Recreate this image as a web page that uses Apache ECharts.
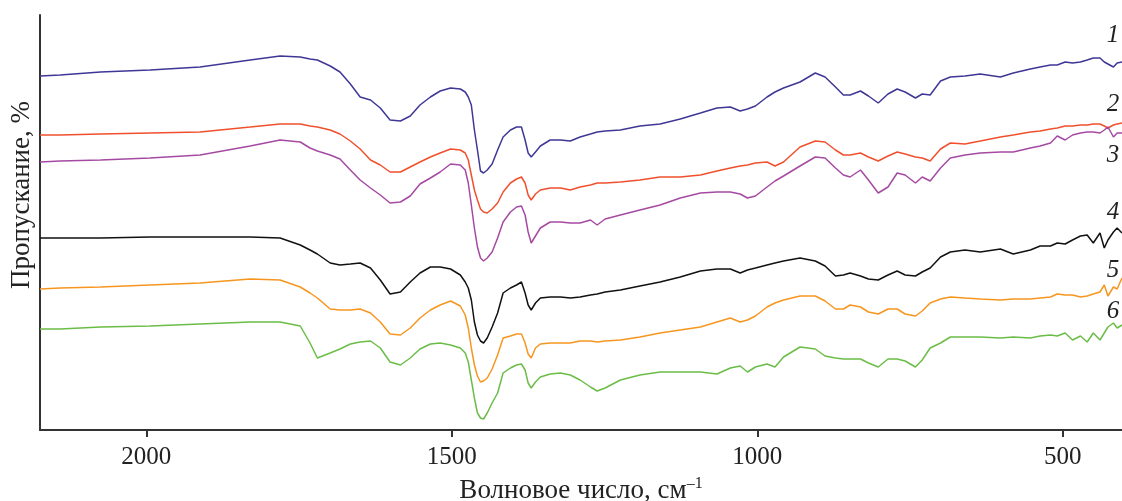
<!DOCTYPE html>
<html>
<head>
<meta charset="utf-8">
<script src="https://cdn.jsdelivr.net/npm/echarts@6/dist/echarts.min.js"></script>
<style>
  html, body { margin: 0; padding: 0; background: #fff; }
  #chart { width: 1122px; height: 501px; }
</style>
</head>
<body>
<div id="chart"></div>
<script>
// волновое число, см-1 (общая сетка для всех спектров)
const wn = [
  2174, 2141, 2075, 1994, 1912, 1830, 1781, 1748, 1732, 1720,
  1699, 1683, 1666, 1650, 1633, 1617, 1601, 1584, 1568, 1552,
  1535, 1519, 1502, 1486, 1478, 1473, 1468, 1463, 1458, 1453,
  1448, 1442, 1434, 1425, 1416, 1404, 1394, 1386, 1380, 1375,
  1370, 1363, 1355, 1339, 1322, 1306, 1290, 1273, 1262, 1249,
  1224, 1192, 1159, 1126, 1093, 1066, 1044, 1028, 1016, 1003,
  984, 971, 957, 930, 905, 889, 872, 859, 848, 831,
  818, 802, 786, 771, 758, 741, 730, 717, 700, 684,
  660, 635, 602, 581, 553, 537, 520, 509, 496, 484,
  471, 460, 450, 439, 432, 426, 417, 411, 403
];

// пропускание (условные единицы, со сдвигом)
const s1 = [
  354, 355, 358, 360, 363, 370, 374, 373, 371, 370,
  364, 358, 346, 333, 330, 322, 310, 309, 314, 325,
  333, 339, 342, 341, 338, 333, 325, 300, 280, 259,
  257, 260, 266, 280, 293, 300, 303, 303, 290, 277,
  273, 278, 284, 290, 290, 289, 293, 296, 298, 299,
  300, 304, 306, 311, 317, 322, 323, 319, 321, 324,
  333, 338, 342, 348, 357, 353, 343, 335, 335, 339,
  334, 327, 336, 341, 338, 332, 336, 335, 349, 353,
  354, 356, 353, 357, 361, 363, 365, 365, 368, 367,
  368, 370, 372, 372, 368, 366, 363, 367, 368
];
const s2 = [
  295, 295, 296, 297, 298, 303, 306, 306, 304, 303,
  300, 296, 289, 281, 270, 265, 258, 258, 263, 268,
  273, 277, 281, 280, 277, 270, 255, 240, 230, 221,
  218, 217, 221, 227, 238, 247, 251, 253, 247, 235,
  230, 236, 240, 242, 242, 240, 243, 245, 247, 247,
  248, 250, 253, 253, 255, 259, 262, 264, 265, 267,
  268, 264, 268, 283, 289, 288, 280, 275, 275, 277,
  273, 269, 274, 278, 276, 273, 272, 269, 281, 287,
  286, 289, 293, 295, 298, 299, 301, 302, 304, 304,
  305, 305, 306, 306, 304, 302, 305, 306, 307
];
const s3 = [
  268, 269, 270, 272, 275, 284, 290, 288, 282, 279,
  275, 271, 260, 250, 242, 235, 227, 228, 234, 246,
  252, 258, 266, 265, 260, 247, 225, 202, 183, 172,
  169, 172, 178, 192, 208, 218, 223, 224, 215, 198,
  187, 194, 202, 208, 208, 207, 207, 210, 205, 211,
  215, 220, 225, 232, 237, 238, 238, 236, 232, 234,
  243, 249, 254, 264, 273, 272, 262, 255, 253, 260,
  250, 237, 243, 257, 255, 247, 253, 249, 262, 272,
  275, 277, 278, 278, 282, 284, 287, 294, 290, 295,
  297, 298, 298, 297, 300, 303, 293, 297, 297
];
const s4 = [
  192, 192, 192, 193, 193, 193, 192, 185, 180, 176,
  167, 165, 166, 167, 162, 150, 136, 138, 148, 157,
  163, 163, 161, 155, 148, 142, 130, 108, 95, 89,
  87, 92, 103, 117, 137, 142, 145, 148, 137, 125,
  120, 127, 132, 133, 133, 132, 133, 135, 136, 138,
  140, 144, 148, 153, 159, 161, 161, 157, 160, 162,
  165, 167, 169, 172, 169, 164, 154, 155, 157, 154,
  151, 150, 155, 159, 155, 154, 158, 162, 173, 178,
  180, 178, 181, 176, 180, 184, 184, 187, 186, 190,
  194, 195, 187, 197, 182, 190, 198, 202, 197
];
const s5 = [
  141, 142, 143, 145, 147, 151, 150, 143, 137, 132,
  121, 120, 120, 121, 117, 108, 96, 95, 102, 112,
  120, 125, 129, 124, 115, 102, 82, 65, 54, 48,
  49, 52, 61, 75, 92, 94, 96, 96, 87, 76,
  72, 82, 86, 87, 87, 87, 89, 89, 88, 89,
  90, 93, 97, 100, 103, 108, 112, 108, 110, 114,
  123, 127, 130, 134, 134, 129, 121, 121, 125, 123,
  118, 116, 121, 121, 116, 114, 119, 127, 131, 133,
  132, 131, 130, 131, 131, 132, 133, 136, 135, 135,
  133, 134, 136, 138, 145, 134, 143, 141, 152
];
const s6 = [
  101, 101, 103, 104, 106, 108, 108, 104, 87, 72,
  77, 81, 86, 88, 89, 82, 68, 65, 72, 81,
  86, 87, 85, 82, 77, 68, 50, 32, 17, 12,
  11, 17, 27, 37, 57, 62, 65, 66, 60, 47,
  42, 48, 53, 56, 57, 55, 50, 43, 39, 42,
  50, 55, 58, 58, 58, 56, 62, 64, 58, 63,
  66, 63, 73, 83, 81, 74, 72, 71, 71, 71,
  67, 63, 71, 71, 69, 63, 70, 82, 87, 93,
  93, 93, 92, 93, 92, 94, 95, 94, 97, 90,
  94, 88, 97, 90, 97, 103, 107, 102, 105
];

const seriesNames = ['1', '2', '3', '4', '5', '6'];
const xTicks = [500, 1000, 1500, 2000];

const allSeries = [s1, s2, s3, s4, s5, s6];
const colors = ['#3f3796', '#f0502d', '#a54aa2', '#111111', '#f7961f', '#6bbd47'];
// позиции номеров кривых (справа)
const labelY = [35, 104, 155, 212, 270, 311];

const serif = '"Liberation Serif", "DejaVu Serif", serif';

let chart = echarts.init(document.getElementById('chart'));
let option = {
  animation: false,
  backgroundColor: '#fff',
  grid: { left: 40, right: 0, top: 15, bottom: 71, outerBoundsMode: 'none' },
  xAxis: {
    type: 'value',
    inverse: true,
    min: 403,
    max: 2174,
    name: 'Волновое число, см{sup|–1}',
    nameLocation: 'middle',
    nameGap: 46,
    nameTextStyle: {
      fontFamily: serif,
      fontSize: 27,
      color: '#222',
      rich: {
        sup: { fontFamily: serif, fontSize: 16, color: '#222', verticalAlign: 'top', padding: [0, 0, 14, 0] }
      }
    },
    axisLine: { show: true, lineStyle: { color: '#333', width: 2 } },
    axisTick: { show: true, length: 7, inside: false, lineStyle: { color: '#333', width: 2 }, customValues: xTicks },
    axisLabel: {
      fontFamily: serif, fontSize: 25, color: '#222', margin: 15, customValues: xTicks,
      formatter: v => String(v)
    },
    splitLine: { show: false }
  },
  yAxis: {
    type: 'value',
    min: 0,
    max: 415,
    axisLine: { show: true, onZero: false, lineStyle: { color: '#333', width: 2 } },
    axisTick: { show: false },
    axisLabel: { show: false },
    splitLine: { show: false }
  },
  graphic: [
    {
      type: 'text',
      x: 22,
      y: 195,
      rotation: Math.PI / 2,
      style: {
        text: 'Пропускание, %',
        font: '27px ' + serif,
        fill: '#222',
        textAlign: 'center',
        textVerticalAlign: 'middle'
      }
    }
  ].concat(seriesNames.map((n, i) => ({
    type: 'text',
    x: 1113,
    y: labelY[i],
    style: {
      text: n,
      font: 'italic 25px ' + serif,
      fill: '#222',
      textAlign: 'center',
      textVerticalAlign: 'middle'
    }
  }))),
  series: allSeries.map((vals, i) => ({
    name: seriesNames[i],
    type: 'line',
    symbol: 'none',
    smooth: false,
    lineStyle: { color: colors[i], width: 1.5 },
    data: wn.map((w, k) => [w, vals[k]])
  }))
};
chart.setOption(option);
</script>
</body>
</html>
